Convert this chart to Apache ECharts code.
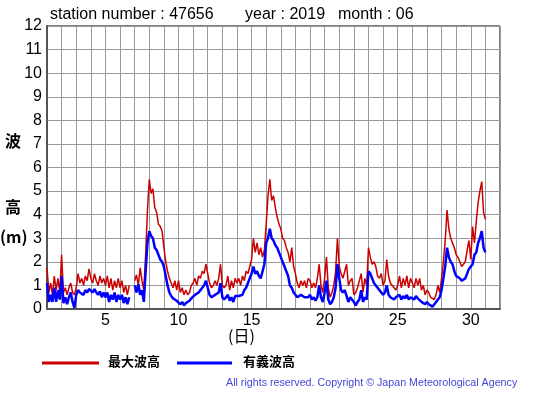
<!DOCTYPE html>
<html>
<head>
<meta charset="utf-8">
<script src="https://cdn.jsdelivr.net/npm/echarts@6/dist/echarts.min.js"></script>
<style>html,body{margin:0;padding:0;background:#fff;}#c{width:555px;height:395px;}</style>
</head>
<body>
<div id="c"></div>
<script>
// 3-hourly samples from day 1.0 to day 31.0 (null = missing)
const maxWave = [
1.75,0.7,1.1,0.6,1.4,0.8,1.3,0.7,
2.3,0.7,0.9,0.6,0.9,1.1,0.7,0.6,
0.9,1.5,1.1,1.3,1.0,1.4,1.2,1.7,
1.3,1.1,1.5,1.2,1.0,1.4,1.1,1.3,
1.0,1.4,0.9,1.3,0.8,1.2,0.9,1.3,
0.9,1.2,0.7,1.0,0.6,1.0,null,null,
1.2,1.45,1.0,1.75,1.2,0.8,2.3,4.2,
5.5,4.9,5.1,4.3,4.1,3.6,3.5,3.3,
2.6,2.0,1.6,1.3,1.1,0.9,1.2,0.8,
1.2,0.7,0.9,0.6,0.8,0.6,0.7,1.0,
1.1,1.3,1.0,1.4,1.3,1.6,1.5,1.9,
1.5,1.1,0.9,1.0,1.2,1.0,1.3,1.9,
1.0,0.9,1.0,1.4,0.8,1.2,0.9,1.3,
1.1,1.3,1.0,1.4,1.2,1.6,1.5,1.8,
2.1,3.0,2.4,2.8,2.3,2.6,2.2,2.5,
3.6,4.8,5.5,4.6,4.8,4.3,3.9,3.6,
3.4,3.0,2.9,2.6,2.4,2.0,2.6,1.8,
1.5,1.1,0.9,1.2,1.0,1.2,0.9,1.3,
1.2,0.9,1.1,0.9,1.3,1.9,1.0,0.7,
1.3,2.2,0.9,0.5,0.7,1.0,1.6,3.0,
1.8,1.5,1.3,1.6,1.9,1.0,1.2,1.3,
0.6,0.7,0.9,1.2,1.5,0.7,1.3,1.0,
2.6,2.2,1.9,2.0,1.8,1.4,1.3,1.5,
1.0,1.2,2.1,1.4,1.1,1.0,0.9,0.8,
1.0,1.4,0.9,1.3,1.0,1.4,0.9,1.3,
1.1,0.9,1.3,1.0,1.3,0.8,1.0,0.6,
0.8,0.7,0.5,0.5,0.4,0.6,1.0,0.7,
1.3,2.0,2.9,4.2,3.4,3.0,3.0,2.6,
2.3,2.2,2.0,1.8,1.9,2.0,2.5,2.9,
2.1,3.5,2.8,3.7,4.5,5.0,5.4,4.1,
3.8
];
const sigWave = [
1.1,0.3,0.6,0.3,0.9,0.3,0.8,0.4,
1.4,0.25,0.5,0.2,0.5,0.7,0.3,0.05,
0.6,0.8,0.7,0.75,0.6,0.8,0.7,0.85,
0.8,0.7,0.85,0.7,0.6,0.75,0.5,0.7,
0.5,0.7,0.3,0.6,0.4,0.7,0.3,0.6,
0.4,0.6,0.25,0.5,0.2,0.5,null,null,
1.0,0.7,1.05,0.6,0.8,0.3,1.6,2.8,
3.3,3.1,3.0,2.6,2.5,2.3,2.1,2.0,
1.8,1.4,1.0,0.7,0.55,0.45,0.4,0.35,
0.35,0.2,0.3,0.15,0.25,0.3,0.35,0.45,
0.5,0.6,0.55,0.7,0.8,0.9,1.0,1.2,
0.9,0.6,0.5,0.55,0.6,0.55,0.7,1.1,
0.5,0.4,0.5,0.6,0.35,0.5,0.3,0.55,
0.5,0.55,0.5,0.6,0.8,0.9,1.1,1.3,
1.5,1.8,1.5,1.6,1.4,1.3,1.3,1.9,
2.8,3.0,3.4,3.0,2.9,2.7,2.6,2.4,
2.2,2.0,1.8,1.6,1.4,1.0,0.9,0.7,
0.6,0.5,0.55,0.6,0.6,0.5,0.5,0.5,
0.6,0.4,0.5,0.35,0.5,1.0,0.5,0.3,
0.7,1.2,0.4,0.2,0.3,0.5,0.9,1.9,
1.3,0.8,0.7,0.8,0.8,0.3,0.5,0.5,
0.3,0.15,0.3,0.4,0.8,0.3,0.5,0.4,
1.6,1.5,1.3,1.1,1.0,0.9,0.8,0.7,
0.6,0.7,1.0,0.6,0.5,0.45,0.4,0.5,
0.5,0.6,0.4,0.55,0.45,0.6,0.4,0.5,
0.45,0.4,0.55,0.45,0.5,0.3,0.35,0.2,
0.3,0.2,0.2,0.1,0.1,0.3,0.4,0.5,
0.8,1.3,1.8,2.6,2.2,2.0,1.9,1.6,
1.4,1.4,1.3,1.2,1.25,1.3,1.5,1.7,
1.8,1.9,2.3,2.4,2.8,3.0,3.3,2.6,
2.4
];
const xTickLabels = [5, 10, 15, 20, 25, 30];
const yTickLabels = [0,1,2,3,4,5,6,7,8,9,10,11,12];
const titleParts = ['station number : 47656', 'year : 2019', 'month : 06'];
const seriesNames = ['最大波高', '有義波高'];
const samplesPerDay = 8;

const toPairs = arr => arr.map((v, i) => [1 + i / samplesPerDay, v]);

const chart = echarts.init(document.getElementById('c'), null, {renderer: 'canvas'});
const numFont = 'Liberation Sans, Arial, sans-serif';
const jpFont = 'Noto Sans CJK JP, sans-serif';
chart.setOption({
  animation: false,
  backgroundColor: '#fff',
  grid: {left: 47, right: 55, top: 26, bottom: 86, show: true, borderColor: '#000', borderWidth: 1},
  xAxis: {
    type: 'value', min: 1, max: 32, interval: 1,
    axisLine: {show: true, lineStyle: {color: '#555', width: 2}},
    axisTick: {show: false},
    splitLine: {show: true, lineStyle: {color: '#999', width: 1}},
    axisLabel: {
      color: '#000', fontFamily: numFont, fontSize: 16, margin: 4,
      formatter: v => xTickLabels.indexOf(v) >= 0 ? String(v) : ''
    }
  },
  yAxis: {
    type: 'value', min: 0, max: 12, interval: 1,
    axisLine: {show: true, lineStyle: {color: '#555', width: 2}},
    axisTick: {show: false},
    splitLine: {show: true, lineStyle: {color: '#999', width: 1}},
    axisLabel: {
      color: '#000', fontFamily: numFont, fontSize: 16, margin: 5,
      formatter: v => yTickLabels.indexOf(v) >= 0 ? String(v) : ''
    }
  },
  series: [
    {name: seriesNames[0], type: 'line', data: toPairs(maxWave), showSymbol: false,
     connectNulls: false, lineStyle: {color: '#cc0000', width: 1.5}, z: 2},
    {name: seriesNames[1], type: 'line', data: toPairs(sigWave), showSymbol: false,
     connectNulls: false, lineStyle: {color: '#0000ff', width: 2.5}, z: 3}
  ],
  graphic: [
    {type: 'text', left: 50, top: 7, style: {text: titleParts[0], font: '16px ' + numFont, fill: '#000'}},
    {type: 'text', left: 245, top: 7, style: {text: titleParts[1], font: '16px ' + numFont, fill: '#000'}},
    {type: 'text', left: 338, top: 7, style: {text: titleParts[2], font: '16px ' + numFont, fill: '#000'}},
    {type: 'text', left: 5, top: 133, style: {text: '波', font: 'bold 16px ' + jpFont, fill: '#000'}},
    {type: 'text', left: 5, top: 199, style: {text: '高', font: 'bold 16px ' + jpFont, fill: '#000'}},
    {type: 'text', left: 0, top: 229, style: {text: '(m)', font: 'bold 16px ' + jpFont, fill: '#000'}},
    {type: 'text', left: 228, top: 328, style: {text: '(日)', font: '16px ' + jpFont, fill: '#000'}},
    {type: 'line', shape: {x1: 42, y1: 363, x2: 99, y2: 363}, style: {stroke: '#cc0000', lineWidth: 3}},
    {type: 'text', left: 108, top: 355, style: {text: seriesNames[0], font: 'bold 13px ' + jpFont, fill: '#000'}},
    {type: 'line', shape: {x1: 177, y1: 363, x2: 232, y2: 363}, style: {stroke: '#0000ff', lineWidth: 3}},
    {type: 'text', left: 243, top: 355, style: {text: seriesNames[1], font: 'bold 13px ' + jpFont, fill: '#000'}},
    {type: 'text', left: 226, top: 378, style: {text: 'All rights reserved. Copyright © Japan Meteorological Agency', font: '10.7px ' + numFont, fill: '#4646d8'}}
  ]
});
</script>
</body>
</html>
